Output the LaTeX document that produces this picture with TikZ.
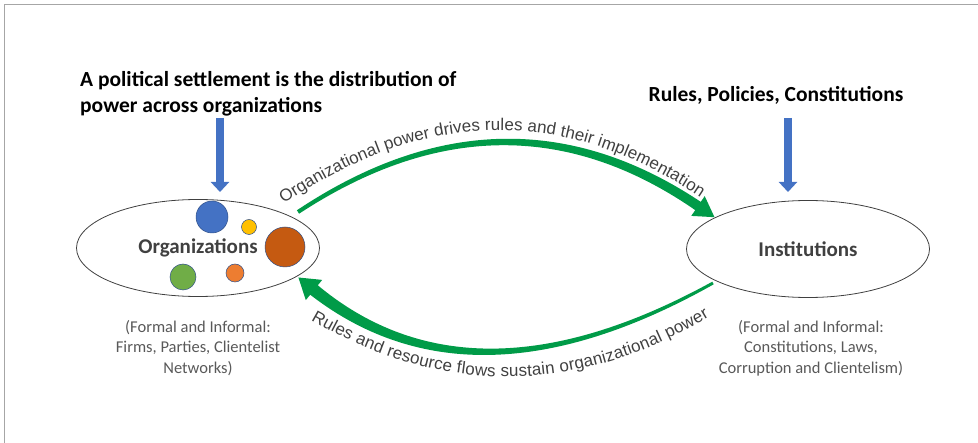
\documentclass[tikz,border=0pt]{standalone}
\usepackage{fontspec}
\setmainfont{Carlito}
\newfontfamily\arcfont{Liberation Sans}
\usetikzlibrary{shapes.geometric,arrows.meta,decorations.text}
\definecolor{pushblue}{HTML}{4472C4}
\definecolor{flowgreen}{HTML}{009B48}
\definecolor{darktext}{HTML}{404040}
\definecolor{softtext}{HTML}{595959}
\begin{document}
\begin{tikzpicture}[>=latex,x=1pt,y=-1pt,
  title/.style={font=\fontsize{21.5}{26}\selectfont\bfseries,inner sep=0},
  oval/.style={ellipse,draw=darktext,line width=.8pt,minimum width=243pt,minimum height=97pt,inner sep=0,font=\fontsize{21}{24}\selectfont\bfseries,text=darktext},
  note/.style={align=center,inner sep=0,text=softtext,font=\fontsize{16.5}{20.5}\selectfont},
  push/.style={pushblue,line width=7.5pt,-{Triangle[width=18pt,length=10pt]}},
  arctext/.style={decorate,decoration={text along path,text align=fit to path,text color=darktext}}]
\useasboundingbox (0,0) rectangle (978,443);
\draw[black!35,line width=1pt] (978,5)--(4,5)--(4,443);
\node[title,anchor=west,align=left] (settle) at (80,94) {A political settlement is the distribution of\\power across organizations};
\node[title] (rules) at (776,95) {Rules, Policies, Constitutions};
\node[oval] (org) at (198,248) {Organizations};
\node[oval] (inst) at (808,249) {Institutions};
\foreach \x/\y/\r/\c in {212/217/16/4472C4,249/227/7.5/FFC000,285/247/20/C55A11,183/277/13/70AD47,235/273/9/ED7D31}
{
    \definecolor{dot}{HTML}{\c}
    \filldraw[fill=dot,draw=pushblue!70!black,line width=.5pt] (\x,\y) circle[radius=\r pt];
}
\node[note] (orgnote) at (198,348) {(Formal and Informal:\\Firms, Parties, Clientelist\\Networks)};
\node[note] (instnote) at (811,348) {(Formal and Informal:\\Constitutions, Laws,\\Corruption and Clientelism)};
\coordinate (settleout) at (220,118);
\coordinate (orgin) at (220,192);
\coordinate (rulesout) at (788,118);
\coordinate (instin) at (788,192);
\draw[push] (settleout)--(orgin);
\draw[push] (rulesout)--(instin);
\fill[flowgreen] (296.9,210.3) .. controls (435.6,117.8) and (570.3,115.0) .. (700.8,201.9) -- (704.7,196.1) -- (714.5,217.2) -- (691.3,215.9) -- (695.2,210.1) .. controls (568.4,122.4) and (436.4,123.6) .. (299.1,213.7) -- cycle;
\fill[flowgreen] (713.7,284.3) .. controls (552.6,374.9) and (418.1,378.4) .. (310.2,294.7) -- (305.8,300.1) -- (298.4,277.5) -- (322.2,279.9) -- (317.8,285.3) .. controls (420.6,370.9) and (552.1,369.7) .. (712.3,281.7) -- cycle;
\path[arctext,decoration={text={|\arcfont\fontsize{17}{20}\selectfont|Organizational power drives rules and their implementation}}] (284,204) .. controls (425,108) and (564,106) .. (700,197);
\path[arctext,decoration={text={|\arcfont\fontsize{17}{20}\selectfont|Rules and resource flows sustain organizational power}}] (311,320) .. controls (442,396) and (576,396) .. (709,317);
\end{tikzpicture}
\end{document}
